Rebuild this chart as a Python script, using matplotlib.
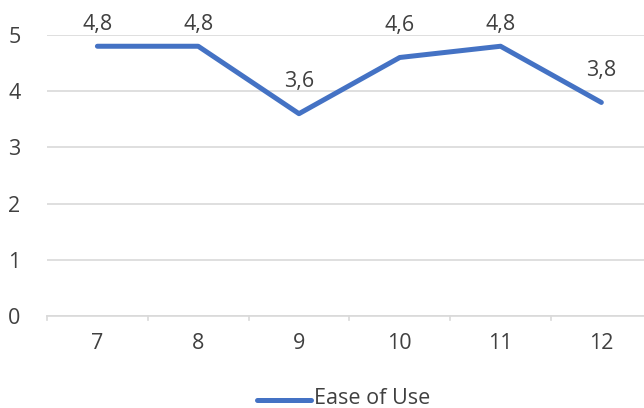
import matplotlib.pyplot as plt
from matplotlib.lines import Line2D

# Ease of Use scores per group
groups = ['7', '8', '9', '10', '11', '12']
ease_of_use = [4.8, 4.8, 3.6, 4.6, 4.8, 3.8]
y_ticks = [0, 1, 2, 3, 4, 5]

BLUE = '#4472C4'
GREY_TEXT = '#404040'
GRID = '#D9D9D9'
FS = 15.5

plt.rcParams['font.family'] = ['Open Sans', 'DejaVu Sans']

fig = plt.figure(figsize=(6.44, 4.08), dpi=100)
ax = fig.add_axes([0.073, 0.2255, 0.939, 0.6887])

x = list(range(len(groups)))
ax.plot(x, ease_of_use, color=BLUE, linewidth=3.6,
        solid_capstyle='round', solid_joinstyle='round', zorder=3)

# value labels above each point, pushed down under the top edge
for xi, v in zip(x, ease_of_use):
    label_y = min(v + 0.57, 5.18)
    ax.text(xi, label_y, str(v).replace('.', ','), ha='center', va='center',
            fontsize=FS, color=GREY_TEXT, zorder=4)

ax.set_xlim(-0.5, len(groups) - 0.5)
ax.set_ylim(0, 5)
ax.set_yticks(y_ticks)
ax.set_yticklabels([str(t) for t in y_ticks])
ax.set_xticks(x)
ax.set_xticklabels(groups)

# category boundary ticks on the x axis
for b in range(len(groups) + 1):
    ax.plot([b - 0.5, b - 0.5], [0, -0.08], color=GRID, linewidth=1.2,
            clip_on=False, zorder=2)

ax.grid(axis='y', color=GRID, linewidth=1.2)
ax.set_axisbelow(True)
for side in ['top', 'right', 'left']:
    ax.spines[side].set_visible(False)
ax.spines['bottom'].set_color(GRID)
ax.spines['bottom'].set_linewidth(1.2)
ax.tick_params(axis='both', length=0, labelsize=FS, colors=GREY_TEXT)
ax.tick_params(axis='x', pad=12)
ax.tick_params(axis='y', pad=19)

# legend entry at the bottom
fig.add_artist(Line2D([257 / 644, 311 / 644], [1 - 400 / 408, 1 - 400 / 408],
                      color=BLUE, linewidth=3.6, solid_capstyle='round'))
fig.text(314 / 644, 1 - 399 / 408, 'Ease of Use', ha='left', va='center',
         fontsize=FS, color=GREY_TEXT)

fig.savefig('out.png', dpi=100)
